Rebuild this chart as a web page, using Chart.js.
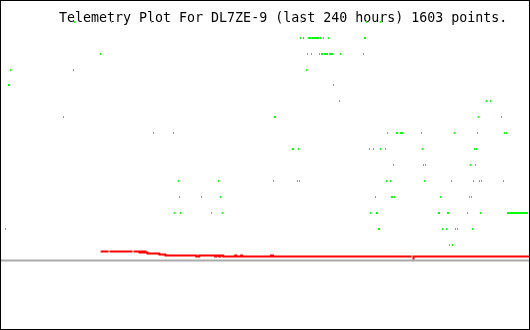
<!DOCTYPE html>
<html>
<head>
<meta charset="utf-8">
<title>Telemetry Plot For DL7ZE-9</title>
<script src="https://cdn.jsdelivr.net/npm/chart.js@4/dist/chart.umd.min.js"></script>
<style>
  html, body { margin: 0; padding: 0; background: #ffffff; }
  #wrap { width: 530px; height: 330px; }
</style>
</head>
<body>
<div id="wrap"><canvas id="plot" width="530" height="330"></canvas></div>
<script>
// Telemetry of DL7ZE-9 over the last 240 hours (x = hours since window start).
const TITLE = 'Telemetry Plot For DL7ZE-9 (last 240 hours) 1603 points.';
const WINDOW_HOURS = 240;

// Analog channel 2 (green): raw counts come in steps of 16.
const a2Levels = [240, 224, 208, 192, 176, 160, 144, 128, 112, 96, 80, 64, 48, 32, 16];
const a2Hours = [
  [33.28, 50.04, 68.60, 136.53, 165.96, 172.30],
  [136.08, 137.43, 139.70, 140.15, 140.60, 141.51, 141.96, 142.42, 142.87, 143.32, 143.77, 144.23,
   145.13, 146.49, 148.75, 165.06, 165.51],
  [45.06, 139.25, 141.06, 144.68, 145.58, 146.04, 146.94, 147.40, 147.85, 148.30, 149.21, 149.66,
   150.11, 150.57, 154.19, 164.60],
  [4.30, 32.83, 138.79],
  [3.40, 3.85, 151.02],
  [153.74, 220.75, 222.57],
  [28.30, 124.30, 124.75, 217.13, 227.55],
  [69.51, 78.57, 175.47, 179.55, 180.00, 181.81, 182.26, 182.72, 191.32, 206.26, 216.68, 228.91, 229.81],
  [132.45, 132.91, 135.17, 167.32, 169.13, 172.30, 174.57, 191.77, 215.32, 216.23],
  [178.19, 192.23, 193.13, 213.51, 215.77],
  [80.83, 98.94, 123.85, 134.72, 135.62, 175.02, 176.83, 192.68, 204.91, 214.87, 217.58, 218.49, 228.45],
  [81.28, 91.25, 99.85, 170.04, 177.28, 177.74, 179.09, 199.92, 213.06, 213.96],
  [79.02, 81.74, 95.77, 100.75, 167.77, 170.49, 170.94, 199.02, 199.47, 203.09, 203.55, 212.15, 218.04,
   230.26, 230.72, 231.17, 231.62, 232.08, 232.53, 232.98, 233.43, 233.89, 234.34, 234.79, 235.25,
   235.70, 236.15, 236.60, 237.06, 237.51, 237.96, 238.42, 238.87, 239.32],
  [2.04, 171.40, 171.85, 200.83, 202.64, 206.72, 207.62, 214.42],
  [204.00, 205.36]
];

// Analog channel 1 (red): each entry starts a new level; null marks a dropout.
const a1Hours  = [45.28, 48.91, 49.13, 49.36, 59.77, 60.00, 60.23, 62.94, 63.85, 64.30, 65.21, 65.66,
                  66.57, 72.00, 74.72, 88.75, 90.11, 97.36, 97.81, 99.17, 99.62, 100.98, 106.42, 106.87,
                  109.13, 109.58, 122.72, 123.62, 186.57, 186.79, 187.02, 187.47, 240.00];
const a1Counts = [9, 9, null, 9, 9, null, 9, 8, 9, 8, 9, 8,
                  7, 6, 5, 4, 5, 4, 5, 4, 5, 4, 5, 4,
                  5, 4, 5, 4, 4, null, 2, 4, 4];

// Zero reference line
const baseHours = [0, WINDOW_HOURS];
const baseCounts = [0, 0];

// 1x2 pixel marker used for each telemetry sample
function makeMarker(color) {
  const c = document.createElement('canvas');
  c.width = 1; c.height = 2;
  const g = c.getContext('2d');
  g.fillStyle = color;
  g.fillRect(0, 0, 1, 2);
  return c;
}
const greenMarker = makeMarker('#00ff00');

const greenPoints = [];
a2Levels.forEach((lvl, i) => a2Hours[i].forEach(h => greenPoints.push({ x: h, y: lvl })));
const redPoints = a1Hours.map((h, i) => ({ x: h, y: a1Counts[i] }));
const basePoints = baseHours.map((h, i) => ({ x: h, y: baseCounts[i] }));

const framePlugin = {
  id: 'frame',
  beforeDatasetsDraw(chart) {
    const ctx = chart.ctx;
    ctx.save();
    ctx.fillStyle = '#000000';
    ctx.font = "13.3px 'DejaVu Sans Mono', monospace";
    ctx.textAlign = 'left';
    ctx.textBaseline = 'alphabetic';
    ctx.fillText(TITLE, 59, 22);
    ctx.restore();
    ctx.imageSmoothingEnabled = false;
  },
  afterDraw(chart) {
    const ctx = chart.ctx;
    ctx.save();
    ctx.strokeStyle = '#000000';
    ctx.lineWidth = 1;
    ctx.strokeRect(0.5, 0.5, chart.width - 1, chart.height - 1);
    ctx.restore();
  }
};

new Chart(document.getElementById('plot'), {
  type: 'line',
  data: {
    datasets: [
      {
        label: 'A2',
        data: greenPoints,
        showLine: false,
        pointStyle: greenMarker,
        pointRadius: 1,
        pointHoverRadius: 1,
        borderWidth: 0
      },
      {
        label: 'A1',
        data: redPoints,
        borderColor: '#ff0000',
        borderWidth: 2,
        stepped: 'before',
        pointRadius: 0,
        spanGaps: false,
        fill: false
      },
      {
        label: 'zero',
        data: basePoints,
        borderColor: '#aaaaaa',
        borderWidth: 2,
        pointRadius: 0,
        fill: false
      }
    ]
  },
  options: {
    responsive: false,
    animation: false,
    events: [],
    layout: { padding: 0 },
    plugins: {
      legend: { display: false },
      title: { display: false },
      tooltip: { enabled: false }
    },
    scales: {
      x: { type: 'linear', min: 0, max: WINDOW_HOURS, display: false },
      y: { type: 'linear', min: -69, max: 261, display: false }
    }
  },
  plugins: [framePlugin]
});
</script>
</body>
</html>
